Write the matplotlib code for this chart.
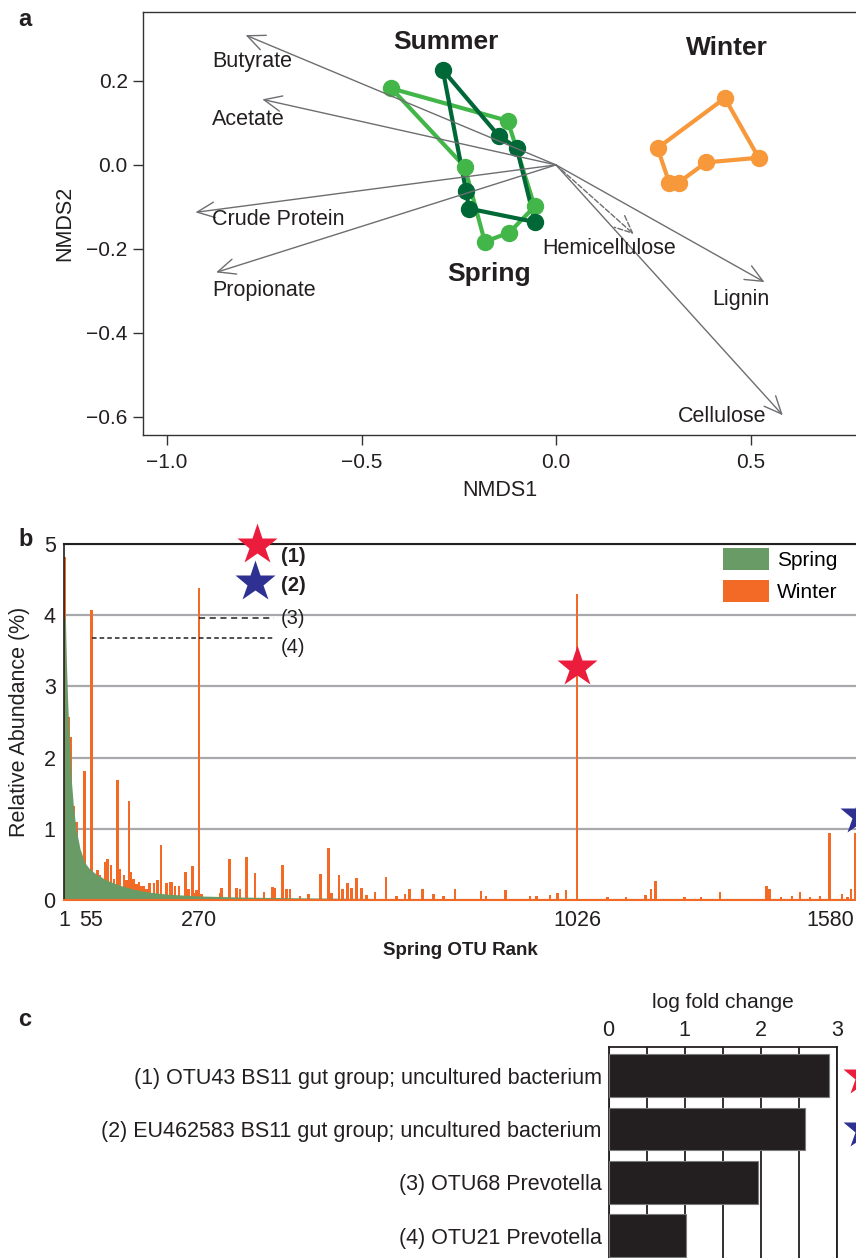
import matplotlib
matplotlib.use("Agg")
import matplotlib.pyplot as plt
from matplotlib.patches import Patch
import numpy as np

plt.rcParams['font.family'] = ['Liberation Sans', 'DejaVu Sans']
plt.rcParams['axes.unicode_minus'] = True
TXT = '#231f20'

# ---------------- Panel a data (NMDS) ----------------
summer_x = [-0.291, -0.147, -0.101, -0.054, -0.224, -0.231]
summer_y = [0.226, 0.069, 0.041, -0.136, -0.104, -0.063]
spring_x = [-0.423, -0.124, -0.055, -0.120, -0.183, -0.235]
spring_y = [0.182, 0.105, -0.099, -0.161, -0.183, -0.004]
winter_x = [0.434, 0.521, 0.386, 0.315, 0.291, 0.261]
winter_y = [0.159, 0.017, 0.006, -0.042, -0.042, 0.040]

vectors = ['Butyrate', 'Acetate', 'Crude Protein', 'Propionate', 'Hemicellulose', 'Lignin', 'Cellulose']
vec_x = [-0.798, -0.755, -0.927, -0.874, 0.200, 0.536, 0.583]
vec_y = [0.309, 0.156, -0.113, -0.256, -0.165, -0.279, -0.596]
vec_dashed = [False, False, False, False, True, False, False]
vec_lab_x = [-0.884, -0.884, -0.884, -0.884, -0.035, 0.401, 0.313]
vec_lab_y = [0.245, 0.107, -0.131, -0.300, -0.199, -0.321, -0.599]

groups = ['Summer', 'Winter', 'Spring']
group_x = [-0.282, 0.440, -0.171]
group_y = [0.293, 0.279, -0.260]

nmds1_ticks = [-1.0, -0.5, 0.0, 0.5]
nmds2_ticks = [-0.6, -0.4, -0.2, 0.0, 0.2]

# ---------------- Panel b data (rank abundance) ----------------
spring_rank = [1, 3, 5, 7, 9, 12, 15, 19, 24, 32, 42, 52, 65, 85, 110, 140, 170, 210, 270,
               350, 450, 550, 700, 900, 1100, 1300, 1584]
spring_abund = [4.02, 3.9, 3.3, 2.85, 2.5, 2.05, 1.65, 1.3, 1.0, 0.72, 0.52, 0.43, 0.36, 0.28,
                0.21, 0.15, 0.11, 0.08, 0.057, 0.042, 0.032, 0.025, 0.018, 0.013, 0.010, 0.008, 0.006]

winter_rank = [1, 10, 14, 20, 25, 41, 55, 67, 72, 76, 82, 87, 94, 100, 107, 112, 120, 125, 130, 134,
               139, 145, 150, 155, 159, 165, 171, 180, 187, 194, 205, 213, 215, 222, 230, 243, 249,
               257, 261, 265, 270, 275, 312, 315, 331, 345, 352, 365, 382, 400, 417, 422, 437, 445,
               452, 472, 489, 513, 529, 535, 550, 557, 567, 575, 585, 595, 605, 622, 644, 665, 682,
               691, 717, 739, 759, 782, 834, 844, 883, 932, 945, 972, 987, 1004, 1026, 1087, 1124,
               1163, 1174, 1183, 1241, 1274, 1312, 1405, 1411, 1434, 1456, 1472, 1492, 1512, 1531,
               1556, 1567, 1574, 1582]
winter_abund = [4.82, 2.57, 2.29, 1.32, 1.10, 1.81, 4.08, 0.42, 0.35, 0.30, 0.54, 0.57, 0.49, 0.30,
                1.68, 0.44, 0.35, 0.28, 1.39, 0.40, 0.30, 0.22, 0.25, 0.20, 0.20, 0.16, 0.24, 0.24,
                0.28, 0.77, 0.24, 0.25, 0.25, 0.20, 0.20, 0.40, 0.15, 0.48, 0.10, 0.14, 4.38, 0.08,
                0.10, 0.17, 0.58, 0.17, 0.15, 0.60, 0.38, 0.11, 0.18, 0.17, 0.49, 0.15, 0.15, 0.06,
                0.09, 0.36, 0.73, 0.10, 0.35, 0.15, 0.24, 0.17, 0.31, 0.17, 0.07, 0.11, 0.32, 0.06,
                0.08, 0.15, 0.15, 0.09, 0.05, 0.15, 0.12, 0.05, 0.14, 0.05, 0.06, 0.07, 0.10, 0.14,
                4.30, 0.04, 0.04, 0.07, 0.15, 0.26, 0.04, 0.04, 0.11, 0.19, 0.16, 0.04, 0.05, 0.11,
                0.04, 0.05, 0.94, 0.09, 0.04, 0.16, 0.94]
rank_ticks = [1, 55, 270, 1026, 1580]

# stars / callouts in panel b
star1_pos = (386, 4.99)
star2_pos = (382, 4.47)
star_1026 = (1026, 3.27)
star_eu = (1592, 1.20)
callout_labels = ['(1)', '(2)', '(3)', '(4)']
callout_y = [4.82, 4.42, 3.96, 3.54]
callout_x = 434
dash3 = ([270, 420], 3.96)
dash4 = ([55, 420], 3.68)

# ---------------- Panel c data ----------------
otu_labels = ['(1) OTU43 BS11 gut group; uncultured bacterium',
              '(2) EU462583 BS11 gut group; uncultured bacterium',
              '(3) OTU68 Prevotella',
              '(4) OTU21 Prevotella']
log_fc = [2.90, 2.58, 1.97, 1.02]

# ---------------- colours ----------------
C_SUMMER = '#006837'
C_SPRING = '#43b649'
C_WINTER = '#f7983a'
C_ARROW = '#6d6e71'
C_GREEN_AREA = '#689b66'
C_ORANGE = '#f26a25'
C_RED = '#ec1c3c'
C_BLUE = '#2e3192'

W, H = 856, 1258
fig = plt.figure(figsize=(W / 100, H / 100), dpi=100)


def box(l, t, r, b):
    return [l / W, 1 - b / H, (r - l) / W, (b - t) / H]


def fmt(v):
    return ('%.1f' % v).replace('-', '\u2212')


# ================= Panel a =================
ax = fig.add_axes(box(143, 12, 856, 435))
ax.set_xlim(-1.0617, 0.7712)
ax.set_ylim(-0.643, 0.364)
for s in ['left', 'top', 'bottom']:
    ax.spines[s].set_color('#333333')
    ax.spines[s].set_linewidth(1.0)
ax.spines['right'].set_visible(False)

for xs, ys, col in [(spring_x, spring_y, C_SPRING), (summer_x, summer_y, C_SUMMER),
                    (winter_x, winter_y, C_WINTER)]:
    ax.plot(xs + xs[:1], ys + ys[:1], color=col, lw=3.0, zorder=2)
    ax.plot(xs, ys, 'o', color=col, ms=11.5, zorder=3)

for name, vx, vy, dsh in zip(vectors, vec_x, vec_y, vec_dashed):
    ax.annotate('', xy=(vx, vy), xytext=(0, 0),
                arrowprops=dict(arrowstyle='->,head_length=0.9,head_width=0.4',
                                color=C_ARROW, lw=1.0, shrinkA=0, shrinkB=0,
                                mutation_scale=14, linestyle='--' if dsh else '-'),
                zorder=5)
for name, lx, ly in zip(vectors, vec_lab_x, vec_lab_y):
    ax.text(lx, ly, name, ha='left', va='center', fontsize=15.5, color=TXT, zorder=6)
for g, gx, gy in zip(groups, group_x, group_y):
    ax.text(gx, gy, g, ha='center', va='center', fontsize=19, fontweight='bold', color=TXT)

ax.set_xticks(nmds1_ticks)
ax.set_xticklabels([fmt(v) for v in nmds1_ticks])
ax.set_yticks(nmds2_ticks)
ax.set_yticklabels([fmt(v) for v in nmds2_ticks])
ax.tick_params(axis='both', direction='out', length=7, width=1, color='#333333',
               labelsize=15, labelcolor=TXT, pad=4)
ax.tick_params(axis='x', pad=6)
ax.set_xlabel('NMDS1', fontsize=15.5, color=TXT, labelpad=6)
ax.set_ylabel('NMDS2', fontsize=15.5, color=TXT, labelpad=8)
fig.text(18 / W, 1 - 20 / H, 'a', fontsize=17, fontweight='bold', color=TXT, ha='left', va='center')

# ================= Panel b =================
bx = fig.add_axes(box(64, 544, 856, 900))
bx.set_xlim(0, 1584)
bx.set_ylim(0, 5)
bx.set_yticks([0, 1, 2, 3, 4, 5])
bx.yaxis.grid(True, color='#a7a9ac', lw=1.6, zorder=0)
bx.set_axisbelow(True)
bx.bar(winter_rank, winter_abund, width=4.2, color=C_ORANGE, lw=0, zorder=2)
bx.fill_between(spring_rank, spring_abund, 0, color=C_GREEN_AREA, lw=0, zorder=3)
bx.spines['right'].set_visible(False)
bx.spines['top'].set_linewidth(1.5)
bx.spines['top'].set_color('#231f20')
bx.spines['left'].set_color('#231f20')
bx.spines['left'].set_linewidth(1.2)
bx.spines['bottom'].set_color(C_ORANGE)
bx.spines['bottom'].set_linewidth(1.5)
bx.spines['bottom'].set_zorder(4)
bx.set_xticks(rank_ticks)
bx.set_xticklabels([str(r) for r in rank_ticks])
bx.tick_params(axis='both', length=0, labelsize=15.5, labelcolor=TXT)
bx.tick_params(axis='x', pad=7)
bx.tick_params(axis='y', pad=6)
last = bx.get_xticklabels()[-1]
last.set_horizontalalignment('right')
last.set_x(1584)
bx.set_xlabel('Spring OTU Rank', fontsize=13.5, fontweight='bold', color=TXT, labelpad=8)
bx.set_ylabel('Relative Abundance (%)', fontsize=15.5, color=TXT, labelpad=10)

bx.plot(*star1_pos, marker='*', ms=31, color=C_RED, mec='none', clip_on=False, zorder=6)
bx.plot(*star2_pos, marker='*', ms=31, color=C_BLUE, mec='none', clip_on=False, zorder=6)
bx.plot(*star_1026, marker='*', ms=31, color=C_RED, mec='none', clip_on=False, zorder=6)
bx.plot(*star_eu, marker='*', ms=31, color=C_BLUE, mec='none', clip_on=False, zorder=6)
for lab, cy in zip(callout_labels, callout_y):
    bold = lab in ('(1)', '(2)')
    bx.text(callout_x, cy, lab, ha='left', va='center', fontsize=14.5,
            fontweight='bold' if bold else 'normal', color=TXT, zorder=7)
bx.plot(dash3[0], [dash3[1]] * 2, ls=(0, (4, 3)), color='#231f20', lw=1.1, zorder=5)
bx.plot(dash4[0], [dash4[1]] * 2, ls=(0, (3, 2)), color='#231f20', lw=1.1, zorder=5)

handles = [Patch(facecolor=C_GREEN_AREA, edgecolor='none', label='Spring'),
           Patch(facecolor=C_ORANGE, edgecolor='none', label='Winter')]
fig.legend(handles=handles, loc='upper left', bbox_to_anchor=(723 / W, 1 - 548 / H),
           frameon=False, fontsize=15, handlelength=2.2, handleheight=1.25,
           handletextpad=0.4, labelspacing=0.5, borderpad=0, borderaxespad=0)
fig.text(18 / W, 1 - 539 / H, 'b', fontsize=17, fontweight='bold', color=TXT, ha='left', va='center')

# ================= Panel c =================
cx = fig.add_axes(box(608.5, 1047, 836.7, 1258))
cx.set_xlim(0, 3)
cx.set_ylim(3.418, -0.534)
cx.set_xticks([0, 1, 2, 3])
cx.set_xticks([0.5, 1.5, 2.5], minor=True)
cx.xaxis.grid(True, which='both', color='#231f20', lw=1.3, zorder=0)
cx.set_axisbelow(True)
cx.barh(range(len(log_fc)), log_fc, height=0.8, color='#231f20', edgecolor='#7a7a7a',
        lw=0.8, zorder=3)
cx.set_yticks(range(len(otu_labels)))
cx.set_yticklabels(otu_labels)
cx.xaxis.tick_top()
cx.xaxis.set_label_position('top')
cx.tick_params(axis='both', which='both', length=0, labelsize=15.5, labelcolor=TXT)
cx.tick_params(axis='x', pad=4)
cx.tick_params(axis='y', pad=5)
cx.set_xlabel('log fold change', fontsize=15, color=TXT, labelpad=9)
cx.spines['bottom'].set_visible(False)
for s in ['left', 'top', 'right']:
    cx.spines[s].set_color('#231f20')
    cx.spines[s].set_linewidth(1.3)
cx.plot(3.34, 0, marker='*', ms=31, color=C_RED, mec='none', clip_on=False, zorder=6)
cx.plot(3.34, 1, marker='*', ms=31, color=C_BLUE, mec='none', clip_on=False, zorder=6)
fig.text(18 / W, 1 - 1020 / H, 'c', fontsize=17, fontweight='bold', color=TXT, ha='left', va='center')

fig.savefig('out.png', dpi=100)
